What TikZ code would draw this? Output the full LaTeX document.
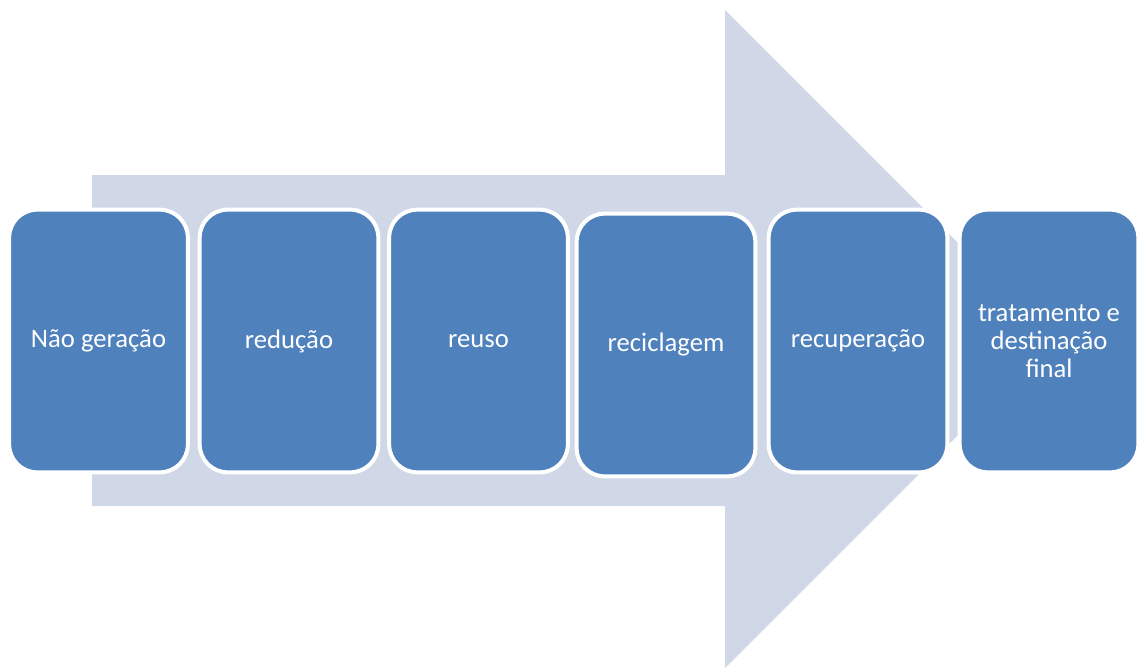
\documentclass[tikz,border=0pt]{standalone}
\usepackage{fontspec}
\setmainfont{Carlito}
\definecolor{arrowfill}{HTML}{D0D8E8}
\definecolor{boxfill}{HTML}{4F81BD}
\begin{document}
\begin{tikzpicture}[x=0.75pt,y=-0.75pt,
  stage/.style={draw=white, line width=3pt, fill=boxfill, rounded corners=21pt,
    minimum width=134pt, minimum height=197pt, inner sep=0pt,
    text=white, align=center, font=\fontsize{20}{21}\selectfont},
  bigarrow/.style={fill=arrowfill, draw=none}]
\useasboundingbox (0,0) rectangle (1139,668);
\fill[bigarrow] (92,175) -- (725,175) -- (725,10) -- (1054,339) -- (725,668) -- (725,506) -- (92,506) -- cycle;
\node[stage] (s1) at (98.5,341) {Não geração};
\node[stage] (s2) at (289,341) {redução};
\node[stage] (s3) at (478.5,341) {reuso};
\node[stage] (s4) at (666,345) {reciclagem};
\node[stage] (s5) at (858,341) {recuperação};
\node[stage] (s6) at (1049,341) {tratamento e\\destinação\\final};
\end{tikzpicture}
\end{document}
